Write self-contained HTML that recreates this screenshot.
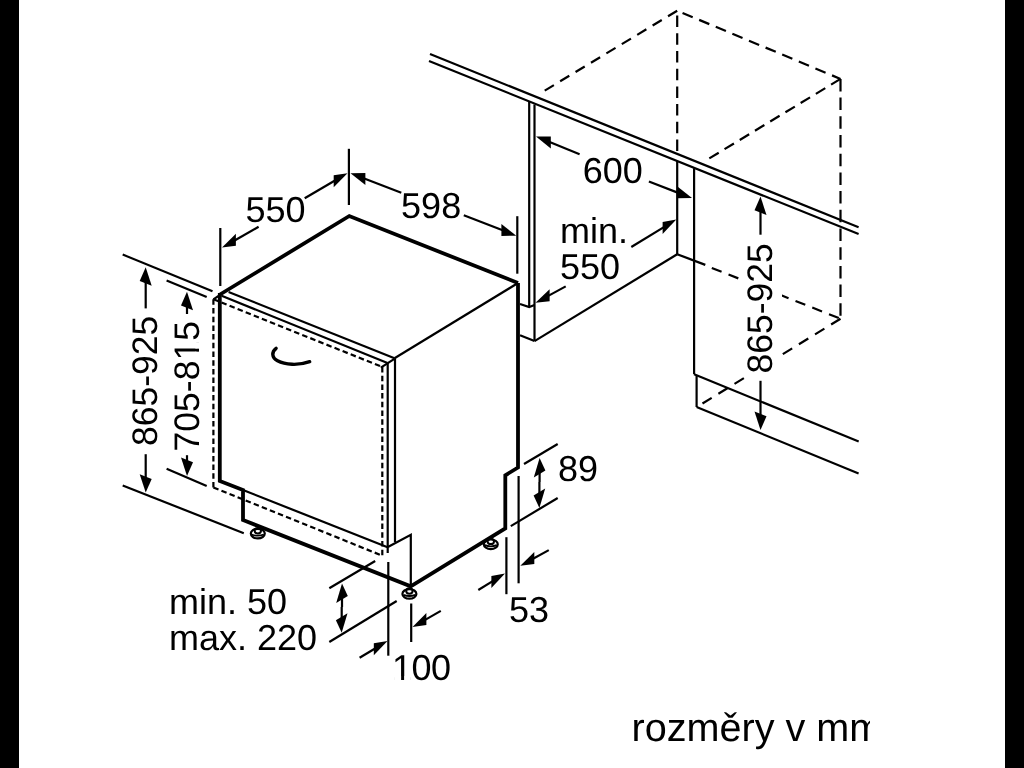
<!DOCTYPE html>
<html><head><meta charset="utf-8"><style>
html,body{margin:0;padding:0;background:#000;width:1024px;height:768px;overflow:hidden}
#pg{position:absolute;left:19px;top:0;width:986px;height:768px;background:#fff}
svg{position:absolute;left:0;top:0} #wrap{position:absolute;left:0;top:0;width:1024px;height:768px;will-change:transform} text{text-rendering:geometricPrecision}
</style></head><body>
<div id="pg"></div>
<div id="wrap"><svg width="1024" height="768" viewBox="0 0 1024 768">
<defs><clipPath id="cp"><rect x="19" y="0" width="851" height="768"/></clipPath></defs>
<g clip-path="url(#cp)" fill="none" stroke="#000" font-family="Liberation Sans, sans-serif">
<g fill="#000" stroke="none" id="txt"></g>
<line x1="430.0" y1="54.0" x2="858.6" y2="227.3" stroke-width="2.2" stroke-linecap="butt"/>
<line x1="429.0" y1="61.0" x2="858.6" y2="234.1" stroke-width="2.2" stroke-linecap="butt"/>
<line x1="677.2" y1="10.7" x2="544.4" y2="90.8" stroke-width="2.2" stroke-dasharray="10.7,7.3" stroke-linecap="butt"/>
<line x1="677.2" y1="10.7" x2="840.5" y2="78.9" stroke-width="2.2" stroke-dasharray="11,7" stroke-dashoffset="12.2" stroke-linecap="butt"/>
<line x1="840.5" y1="78.9" x2="709.3" y2="158.4" stroke-width="2.2" stroke-dasharray="11,6.8" stroke-linecap="butt"/>
<line x1="840.5" y1="78.9" x2="840.5" y2="318.7" stroke-width="2.2" stroke-dasharray="12.5,6.2" stroke-linecap="butt"/>
<line x1="840.5" y1="318.7" x2="702.5" y2="403.5" stroke-width="2.2" stroke-dasharray="11,7.9" stroke-linecap="butt"/>
<line x1="677.2" y1="10.7" x2="677.2" y2="152.0" stroke-width="2.2" stroke-dasharray="11.5,6.2" stroke-dashoffset="12.8" stroke-linecap="butt"/>
<line x1="711.8" y1="267.9" x2="840.5" y2="318.7" stroke-width="2.2" stroke-dasharray="10.5,7.5" stroke-linecap="butt"/>
<line x1="529.2" y1="101.7" x2="529.2" y2="307.0" stroke-width="2.2" stroke-linecap="butt"/>
<line x1="534.5" y1="104.5" x2="534.5" y2="341.1" stroke-width="2.2" stroke-linecap="butt"/>
<polyline points="520.0,304.0 529.2,307.0 534.5,305.0" stroke-width="2.2" stroke-linecap="butt" stroke-linejoin="miter"/>
<line x1="520.0" y1="335.2" x2="534.5" y2="341.1" stroke-width="2.2" stroke-linecap="butt"/>
<line x1="534.5" y1="341.1" x2="677.2" y2="254.2" stroke-width="2.2" stroke-linecap="butt"/>
<line x1="677.2" y1="161.0" x2="677.2" y2="254.2" stroke-width="2.2" stroke-linecap="butt"/>
<line x1="677.2" y1="254.2" x2="705.3" y2="264.9" stroke-width="2.2" stroke-linecap="butt"/>
<line x1="694.1" y1="168.2" x2="694.1" y2="374.2" stroke-width="2.2" stroke-linecap="butt"/>
<line x1="694.1" y1="374.2" x2="858.7" y2="441.6" stroke-width="2.2" stroke-linecap="butt"/>
<line x1="696.6" y1="375.0" x2="696.6" y2="407.0" stroke-width="2.2" stroke-linecap="butt"/>
<line x1="696.6" y1="407.0" x2="858.6" y2="473.5" stroke-width="2.2" stroke-linecap="butt"/>
<line x1="579.6" y1="154.2" x2="549.0" y2="141.8" stroke-width="2.2" stroke-linecap="butt"/>
<polygon points="536.0,136.6 550.8,148.6 550.8,136.6" fill="#000" stroke="none"/>
<line x1="648.9" y1="181.5" x2="678.9" y2="193.1" stroke-width="2.2" stroke-linecap="butt"/>
<polygon points="692.0,198.1 677.1,198.3 677.1,186.3" fill="#000" stroke="none"/>
<g transform="translate(582.7,182.8)"><text fill="#000" stroke="none" x="0" y="0" font-size="36">600</text></g>
<line x1="631.3" y1="247.0" x2="664.3" y2="226.9" stroke-width="2.2" stroke-linecap="butt"/>
<polygon points="676.3,219.6 662.6,233.9 662.6,221.9" fill="#000" stroke="none"/>
<line x1="565.7" y1="286.4" x2="547.8" y2="296.1" stroke-width="2.2" stroke-linecap="butt"/>
<polygon points="535.5,302.8 549.6,301.2 549.6,289.2" fill="#000" stroke="none"/>
<g transform="translate(560,243.4)"><text fill="#000" stroke="none" x="0" y="0" font-size="36">min.</text></g>
<g transform="translate(560,278.9)"><text fill="#000" stroke="none" x="0" y="0" font-size="36">550</text></g>
<line x1="760.5" y1="234.7" x2="760.5" y2="210.6" stroke-width="2.2" stroke-linecap="butt"/>
<polygon points="760.5,196.6 766.5,215.0 754.5,210.2" fill="#000" stroke="none"/>
<line x1="760.5" y1="380.8" x2="760.5" y2="415.9" stroke-width="2.2" stroke-linecap="butt"/>
<polygon points="760.5,429.9 766.5,416.3 754.5,411.5" fill="#000" stroke="none"/>
<rect x="740" y="241" width="42" height="135" fill="#fff" stroke="none"/>
<g transform="translate(771.5,373.5) rotate(-90)"><text fill="#000" stroke="none" x="0" y="0" font-size="35.5">865-925</text></g>
<polyline points="220.0,294.5 349.3,216.0 518.0,283.0" stroke-width="3.8" stroke-linecap="butt" stroke-linejoin="miter"/>
<line x1="518.0" y1="283.0" x2="394.5" y2="358.3" stroke-width="2.2" stroke-linecap="butt"/>
<line x1="228.6" y1="291.9" x2="394.5" y2="358.3" stroke-width="2.2" stroke-linecap="butt"/>
<line x1="221.6" y1="295.8" x2="387.5" y2="363.0" stroke-width="2.2" stroke-linecap="butt"/>
<line x1="213.4" y1="299.3" x2="382.3" y2="367.0" stroke-width="2.2" stroke-dasharray="5.5,3.2" stroke-linecap="butt"/>
<line x1="213.4" y1="299.3" x2="220.0" y2="295.0" stroke-width="2.2" stroke-linecap="butt"/>
<line x1="395.0" y1="358.3" x2="395.0" y2="542.0" stroke-width="2.2" stroke-linecap="butt"/>
<line x1="387.7" y1="363.0" x2="387.7" y2="553.0" stroke-width="2.2" stroke-linecap="butt"/>
<line x1="394.8" y1="358.6" x2="380.8" y2="367.7" stroke-width="2.2" stroke-linecap="butt"/>
<line x1="382.3" y1="367.0" x2="382.3" y2="555.7" stroke-width="2.2" stroke-dasharray="5.5,3.2" stroke-linecap="butt"/>
<line x1="213.4" y1="299.3" x2="213.4" y2="487.4" stroke-width="2.2" stroke-dasharray="5.5,3.2" stroke-linecap="butt"/>
<line x1="213.4" y1="487.4" x2="382.3" y2="555.7" stroke-width="2.2" stroke-dasharray="5.5,3.2" stroke-linecap="butt"/>
<polyline points="219.8,293.0 219.8,481.0 243.0,490.0 243.0,520.0 410.7,586.3 505.3,528.4 505.3,475.3 518.0,467.5 518.0,283.0" stroke-width="3.8" stroke-linecap="butt" stroke-linejoin="miter"/>
<line x1="243.0" y1="490.0" x2="387.6" y2="547.3" stroke-width="2.2" stroke-linecap="butt"/>
<polyline points="387.9,547.0 410.8,534.8 410.8,586.3" stroke-width="2.2" stroke-linecap="butt" stroke-linejoin="miter"/>
<path d="M276.1,348.3 C271.5,351.8 271.5,357.5 277.5,360.8 C285,364.8 298,365.8 309.7,361.7" stroke-width="3.4" stroke-linecap="round"/>
<ellipse cx="257.8" cy="533.5999999999999" rx="7" ry="4.8" stroke-width="2.2"/>
<ellipse cx="257.8" cy="530.6999999999999" rx="3.2" ry="2.7" stroke-width="2"/>
<path d="M251.8,534.5 Q257.8,536.9 263.8,534.5" stroke-width="1.8"/>
<ellipse cx="409.4" cy="593.9" rx="7" ry="4.8" stroke-width="2.2"/>
<ellipse cx="409.4" cy="591.0" rx="3.2" ry="2.7" stroke-width="2"/>
<path d="M403.4,594.8000000000001 Q409.4,597.2 415.4,594.8000000000001" stroke-width="1.8"/>
<ellipse cx="490.8" cy="544.3" rx="7" ry="4.8" stroke-width="2.2"/>
<ellipse cx="490.8" cy="541.4" rx="3.2" ry="2.7" stroke-width="2"/>
<path d="M484.8,545.2 Q490.8,547.6 496.8,545.2" stroke-width="1.8"/>
<line x1="220.3" y1="228.0" x2="220.3" y2="286.0" stroke-width="2.2" stroke-linecap="butt"/>
<line x1="348.9" y1="148.8" x2="348.9" y2="205.0" stroke-width="2.2" stroke-linecap="butt"/>
<line x1="258.6" y1="226.8" x2="234.2" y2="240.7" stroke-width="2.2" stroke-linecap="butt"/>
<polygon points="222.0,247.6 235.9,245.7 235.9,233.7" fill="#000" stroke="none"/>
<line x1="304.7" y1="198.3" x2="335.4" y2="180.3" stroke-width="2.2" stroke-linecap="butt"/>
<polygon points="347.5,173.2 333.7,187.3 333.7,175.3" fill="#000" stroke="none"/>
<g transform="translate(245.4,222.1)"><text fill="#000" stroke="none" x="0" y="0" font-size="36">550</text></g>
<line x1="517.3" y1="216.2" x2="517.3" y2="273.7" stroke-width="2.2" stroke-linecap="butt"/>
<line x1="401.3" y1="192.7" x2="363.6" y2="178.2" stroke-width="2.2" stroke-linecap="butt"/>
<polygon points="350.5,173.2 365.4,184.9 365.4,172.9" fill="#000" stroke="none"/>
<line x1="463.8" y1="215.2" x2="503.3" y2="230.6" stroke-width="2.2" stroke-linecap="butt"/>
<polygon points="516.3,235.7 501.4,235.9 501.4,223.9" fill="#000" stroke="none"/>
<g transform="translate(401.1,218.4)"><text fill="#000" stroke="none" x="0" y="0" font-size="36">598</text></g>
<line x1="122.7" y1="254.6" x2="212.5" y2="291.2" stroke-width="2.2" stroke-linecap="butt"/>
<line x1="122.7" y1="485.4" x2="243.8" y2="533.3" stroke-width="2.2" stroke-linecap="butt"/>
<line x1="145.7" y1="308.4" x2="145.7" y2="281.3" stroke-width="2.2" stroke-linecap="butt"/>
<polygon points="145.7,267.3 151.7,285.7 139.7,280.9" fill="#000" stroke="none"/>
<line x1="145.7" y1="454.2" x2="145.7" y2="478.6" stroke-width="2.2" stroke-linecap="butt"/>
<polygon points="145.7,492.6 151.7,479.0 139.7,474.2" fill="#000" stroke="none"/>
<g transform="translate(157,446) rotate(-90)"><text fill="#000" stroke="none" x="0" y="0" font-size="35.5">865-925</text></g>
<line x1="166.6" y1="280.6" x2="206.7" y2="297.0" stroke-width="2.2" stroke-linecap="butt"/>
<line x1="166.6" y1="468.8" x2="206.7" y2="486.0" stroke-width="2.2" stroke-linecap="butt"/>
<line x1="187.0" y1="314.0" x2="187.0" y2="305.8" stroke-width="2.2" stroke-linecap="butt"/>
<polygon points="187.0,291.8 193.0,310.2 181.0,305.4" fill="#000" stroke="none"/>
<line x1="187.0" y1="455.2" x2="187.0" y2="461.9" stroke-width="2.2" stroke-linecap="butt"/>
<polygon points="187.0,475.9 193.0,462.3 181.0,457.5" fill="#000" stroke="none"/>
<g transform="translate(199,451.4) rotate(-90)"><text fill="#000" stroke="none" x="0" y="0" font-size="35.5">705-815</text><rect class="m" x="92.90" y="-3.47" width="6.85" height="4.17" fill="#fff" stroke="none"/><rect class="m" x="102.70" y="-3.47" width="6.53" height="4.17" fill="#fff" stroke="none"/></g>
<line x1="524.0" y1="464.0" x2="557.7" y2="444.0" stroke-width="2.2" stroke-linecap="butt"/>
<line x1="510.8" y1="526.1" x2="557.7" y2="498.0" stroke-width="2.2" stroke-linecap="butt"/>
<line x1="518.6" y1="476.0" x2="518.6" y2="583.3" stroke-width="2.2" stroke-linecap="butt"/>
<line x1="539.6" y1="482.0" x2="539.6" y2="472.1" stroke-width="2.2" stroke-linecap="butt"/>
<polygon points="539.6,458.1 545.4,470.6 533.8,477.6" fill="#000" stroke="none"/>
<line x1="539.4" y1="482.0" x2="539.4" y2="494.0" stroke-width="2.2" stroke-linecap="butt"/>
<polygon points="539.4,508.0 545.2,488.5 533.6,495.5" fill="#000" stroke="none"/>
<g transform="translate(558,481.2)"><text fill="#000" stroke="none" x="0" y="0" font-size="36">89</text></g>
<line x1="506.4" y1="537.2" x2="506.4" y2="594.2" stroke-width="2.2" stroke-linecap="butt"/>
<line x1="478.3" y1="590.0" x2="493.1" y2="580.9" stroke-width="2.2" stroke-linecap="butt"/>
<polygon points="505.0,573.5 491.4,587.9 491.4,575.9" fill="#000" stroke="none"/>
<line x1="548.8" y1="550.1" x2="532.6" y2="559.0" stroke-width="2.2" stroke-linecap="butt"/>
<polygon points="520.3,565.8 534.3,564.1 534.3,552.1" fill="#000" stroke="none"/>
<g transform="translate(509,621.5)"><text fill="#000" stroke="none" x="0" y="0" font-size="36">53</text></g>
<line x1="329.3" y1="588.3" x2="375.2" y2="561.0" stroke-width="2.2" stroke-linecap="butt"/>
<line x1="329.3" y1="642.0" x2="396.7" y2="601.0" stroke-width="2.2" stroke-linecap="butt"/>
<line x1="342.0" y1="607.0" x2="342.0" y2="597.4" stroke-width="2.2" stroke-linecap="butt"/>
<polygon points="342.0,583.4 347.8,595.9 336.2,602.9" fill="#000" stroke="none"/>
<line x1="341.7" y1="607.0" x2="341.7" y2="618.8" stroke-width="2.2" stroke-linecap="butt"/>
<polygon points="341.7,632.8 347.5,613.3 335.9,620.3" fill="#000" stroke="none"/>
<g transform="translate(169,614)"><text fill="#000" stroke="none" x="0" y="0" font-size="36">min. 50</text></g>
<g transform="translate(169,649.7)"><text fill="#000" stroke="none" x="0" y="0" font-size="36">max. 220</text></g>
<line x1="388.3" y1="562.0" x2="388.3" y2="655.7" stroke-width="2.2" stroke-linecap="butt"/>
<line x1="411.2" y1="603.5" x2="411.2" y2="642.0" stroke-width="2.2" stroke-linecap="butt"/>
<line x1="359.6" y1="657.7" x2="375.5" y2="648.2" stroke-width="2.2" stroke-linecap="butt"/>
<polygon points="387.5,641.0 373.8,655.2 373.8,643.2" fill="#000" stroke="none"/>
<line x1="440.8" y1="610.9" x2="424.7" y2="620.1" stroke-width="2.2" stroke-linecap="butt"/>
<polygon points="412.5,627.0 426.4,625.1 426.4,613.1" fill="#000" stroke="none"/>
<g transform="translate(392,679.8)"><text fill="#000" stroke="none" x="0" y="0" font-size="36" letter-spacing="-0.5">100</text><rect class="m" x="2.16" y="-3.51" width="6.95" height="4.21" fill="#fff" stroke="none"/><rect class="m" x="12.10" y="-3.51" width="6.62" height="4.21" fill="#fff" stroke="none"/></g>
<text fill="#000" stroke="none" x="0" y="0" font-size="39.6" transform="translate(631.5,741.4)">rozměry v mm</text>
</g>
</svg></div>
</body></html>
